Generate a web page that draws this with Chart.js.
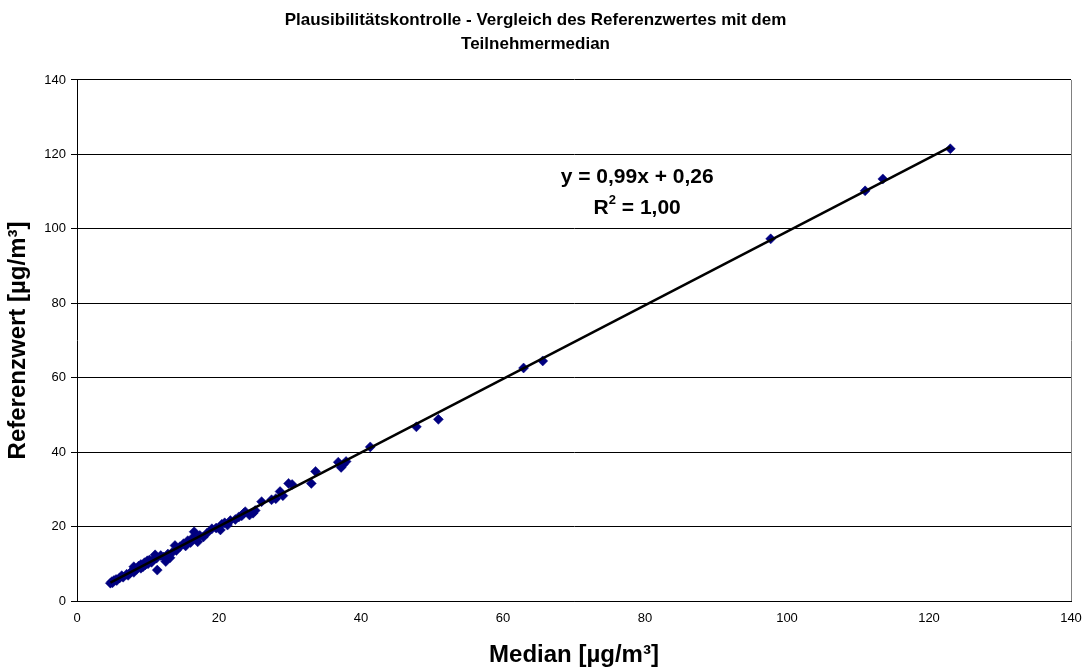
<!DOCTYPE html>
<html>
<head>
<meta charset="utf-8">
<script src="https://cdn.jsdelivr.net/npm/chart.js@4/dist/chart.umd.min.js"></script>
<style>
    html, body { margin: 0; padding: 0; background: #ffffff; }
    #wrap { width: 1084px; height: 671px; position: relative; }
</style>
</head>
<body>
<div id="wrap"><canvas id="plausi-chart"></canvas></div>
<script>
// Teilnehmermedian (x) und Referenzwert (y)
const medianValues = [
    4.7, 4.9, 5.0, 5.2, 5.5, 5.6, 6.0, 6.3, 6.5, 7.0, 7.2, 7.5, 7.8, 8.0, 8.0, 8.4, 8.7, 9.0,
    9.0, 9.3, 9.5, 9.6, 9.9, 10.0, 10.2, 10.5, 10.8, 11.0, 11.2, 11.3, 11.8, 12.2, 12.5, 12.8,
    13.1, 13.4, 13.8, 14.0, 14.5, 15.0, 15.3, 15.6, 16.0, 16.3, 16.5, 17.0, 17.3, 17.8, 18.3,
    19.0, 19.6, 20.2, 20.4, 20.8, 21.2, 21.6, 22.3, 22.8, 23.2, 23.5, 23.7, 24.3, 24.8, 25.1,
    26.0, 27.4, 28.0, 28.6, 29.0, 29.8, 30.3, 33.0, 33.6, 36.8, 37.2, 37.5, 37.9, 41.3,
    47.8, 50.9, 62.9, 65.6, 97.7, 111.0, 113.5, 123.0
];
const referenzValues = [
    4.8, 5.2, 4.9, 5.5, 5.8, 5.5, 6.2, 6.8, 6.4, 7.2, 6.9, 7.6, 8.1, 7.7, 9.2, 8.5, 9.4, 8.8,
    9.8, 9.2, 10.3, 9.7, 10.8, 10.0, 11.0, 10.4, 11.2, 12.4, 11.5, 8.3, 12.2, 11.8, 10.6, 12.6,
    11.6, 13.0, 14.9, 13.6, 14.6, 15.4, 14.8, 16.2, 15.7, 17.0, 18.6, 15.9, 17.6, 17.2, 18.2,
    19.4, 19.6, 19.1, 20.6, 21.0, 20.4, 21.6, 21.9, 22.6, 22.9, 23.6, 24.0, 23.1, 23.6, 24.3,
    26.7, 27.2, 27.5, 29.4, 28.3, 31.6, 31.3, 31.6, 34.8, 37.3, 35.9, 36.7, 37.5, 41.4,
    46.8, 48.8, 62.6, 64.5, 97.3, 110.2, 113.4, 121.5
];

// Trendlinie y = 0,99x + 0,26
const trendX = [4.7, 123.0];
const trendY = [4.91, 122.03];
const trendLabel = 'y = 0,99x + 0,26';
const r2Label = '1,00';

const xTicks = [0, 20, 40, 60, 80, 100, 120, 140];
const yTicks = [0, 20, 40, 60, 80, 100, 120, 140];

const points = medianValues.map((x, i) => ({ x: x, y: referenzValues[i] }));
const trend = trendX.map((x, i) => ({ x: x, y: trendY[i] }));

const FONT = 'Liberation Sans, Arial, sans-serif';

// Beschriftung der Trendlinie
const equationPlugin = {
    id: 'equation',
    afterDatasetsDraw(chart) {
        const ctx = chart.ctx;
        const xs = chart.scales.x;
        const ys = chart.scales.y;
        const cx = xs.getPixelForValue(78.9);
        const y1 = ys.getPixelForValue(114);
        const y2 = ys.getPixelForValue(105.6);
        ctx.save();
        ctx.fillStyle = '#000';
        ctx.textBaseline = 'middle';
        ctx.font = 'bold 21px ' + FONT;
        ctx.textAlign = 'center';
        ctx.fillText(trendLabel, cx, y1);

        const rW = ctx.measureText('R').width;
        ctx.font = 'bold 13px ' + FONT;
        const supW = ctx.measureText('2').width;
        ctx.font = 'bold 21px ' + FONT;
        const restText = ' = ' + r2Label;
        const restW = ctx.measureText(restText).width;
        let x = cx - (rW + supW + restW) / 2;
        ctx.textAlign = 'left';
        ctx.fillText('R', x, y2);
        x += rW;
        ctx.font = 'bold 13px ' + FONT;
        ctx.fillText('2', x, y2 - 8);
        x += supW;
        ctx.font = 'bold 21px ' + FONT;
        ctx.fillText(restText, x, y2);
        ctx.restore();
    }
};

// Rahmen der Zeichenfläche rechts (grau)
const framePlugin = {
    id: 'frame',
    beforeDatasetsDraw(chart) {
        const a = chart.chartArea;
        const ctx = chart.ctx;
        ctx.save();
        ctx.strokeStyle = '#808080';
        ctx.lineWidth = 1;
        ctx.beginPath();
        ctx.moveTo(a.right + 0.5, a.top);
        ctx.lineTo(a.right + 0.5, a.bottom);
        ctx.stroke();
        ctx.restore();
    }
};

const ctx = document.getElementById('plausi-chart').getContext('2d');

new Chart(ctx, {
    type: 'scatter',
    data: {
        datasets: [
            {
                label: 'Messwerte',
                data: points,
                pointStyle: 'rectRot',
                pointRadius: 5,
                pointHoverRadius: 5,
                backgroundColor: '#000080',
                borderColor: '#000080',
                borderWidth: 0.5,
                order: 2
            },
            {
                label: 'Trendlinie',
                type: 'line',
                data: trend,
                borderColor: '#000000',
                borderWidth: 2.5,
                pointRadius: 0,
                fill: false,
                order: 1
            }
        ]
    },
    options: {
        responsive: true,
        maintainAspectRatio: false,
        animation: false,
        layout: {
            padding: { left: 0, right: 13, top: 0, bottom: 0 }
        },
        plugins: {
            legend: { display: false },
            tooltip: { enabled: false },
            title: {
                display: true,
                text: ['Plausibilitätskontrolle - Vergleich des Referenzwertes mit dem', 'Teilnehmermedian'],
                color: '#000',
                font: { family: FONT, size: 17, weight: 'bold', lineHeight: 1.41 },
                padding: { top: 8, bottom: 24 }
            }
        },
        scales: {
            x: {
                type: 'linear',
                min: 0,
                max: 140,
                afterBuildTicks(scale) {
                    scale.ticks = xTicks.map(v => ({ value: v }));
                },
                afterFit(scale) {
                    scale.height = 70;
                    scale.paddingRight = 0;
                    scale.paddingLeft = 0;
                },
                grid: {
                    display: false,
                    drawOnChartArea: false,
                    drawTicks: true,
                    tickLength: 5,
                    color: '#000'
                },
                border: { color: '#000', width: 1 },
                ticks: {
                    color: '#000',
                    font: { family: FONT, size: 13 },
                    padding: 5,
                    maxRotation: 0
                },
                title: {
                    display: true,
                    text: 'Median [µg/m³]',
                    color: '#000',
                    font: { family: FONT, size: 24, weight: 'bold' },
                    padding: { top: 4, bottom: 1 }
                }
            },
            y: {
                type: 'linear',
                min: 0,
                max: 140,
                afterBuildTicks(scale) {
                    scale.ticks = yTicks.map(v => ({ value: v }));
                },
                afterFit(scale) {
                    scale.width = 77;
                },
                grid: {
                    color: '#000',
                    lineWidth: 1,
                    tickLength: 6
                },
                border: { color: '#000', width: 1 },
                ticks: {
                    color: '#000',
                    font: { family: FONT, size: 13 },
                    padding: 5
                },
                title: {
                    display: true,
                    text: 'Referenzwert [µg/m³]',
                    color: '#000',
                    font: { family: FONT, size: 24, weight: 'bold' },
                    padding: { top: 4, bottom: 4 }
                }
            }
        }
    },
    plugins: [equationPlugin, framePlugin]
});
</script>
</body>
</html>
